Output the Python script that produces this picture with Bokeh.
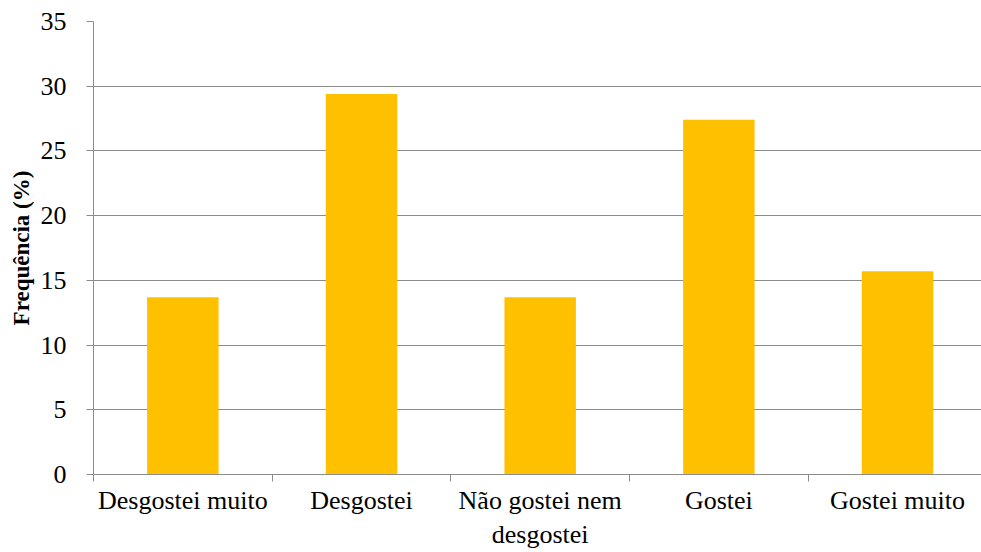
from bokeh.plotting import figure
from bokeh.models import Range1d, FixedTicker, ColumnDataSource
from bokeh.embed import file_html
from bokeh.resources import INLINE

categories = ["Desgostei muito", "Desgostei", "Não gostei nem\ndesgostei", "Gostei", "Gostei muito"]
values = [13.7, 29.4, 13.7, 27.4, 15.7]
y_ticks = [0, 5, 10, 15, 20, 25, 30, 35]

positions = [i + 0.5 for i in range(len(categories))]
boundaries = [i for i in range(len(categories) + 1)]

src = ColumnDataSource(dict(x=positions, top=values, cat=categories))

FONT = "Liberation Serif"
GRID = "#8c8c8c"

p = figure(width=981, height=552, output_backend="svg", toolbar_location=None,
           x_range=Range1d(0, 4.97), y_range=Range1d(0, 35),
           min_border_left=93, min_border_top=21, min_border_right=0, min_border_bottom=76)
p.outline_line_color = None
p.background_fill_color = "white"

p.vbar(x="x", top="top", width=0.4, source=src, color="#FFC000", line_color=None)

# y axis
ya = p.yaxis[0]
ya.ticker = FixedTicker(ticks=y_ticks, minor_ticks=[])
ya.axis_line_color = GRID
ya.major_tick_line_color = GRID
ya.major_tick_out = 7
ya.major_tick_in = 0
ya.minor_tick_line_color = None
ya.major_label_text_font = FONT
ya.major_label_text_font_size = "26px"
ya.major_label_text_color = "black"
ya.major_label_standoff = 20
ya.axis_label = "Frequência (%)"
ya.axis_label_text_font = FONT
ya.axis_label_text_font_size = "23px"
ya.axis_label_text_font_style = "bold"
ya.axis_label_text_color = "black"
ya.axis_label_standoff = 4

# x axis
xa = p.xaxis[0]
xa.ticker = FixedTicker(ticks=positions, minor_ticks=boundaries)
xa.major_label_overrides = {pos: cat for pos, cat in zip(positions, categories)}
xa.axis_line_color = GRID
xa.major_tick_line_color = None
xa.major_tick_out = 7
xa.major_tick_in = 0
xa.minor_tick_line_color = GRID
xa.minor_tick_out = 7
xa.minor_tick_in = 0
xa.major_label_text_font = FONT
xa.major_label_text_font_size = "26px"
xa.major_label_text_color = "black"
xa.major_label_standoff = 4

p.xgrid.grid_line_color = None
p.ygrid.grid_line_color = GRID
p.ygrid.grid_line_width = 1

open("out.html", "w").write(file_html(p, INLINE))
